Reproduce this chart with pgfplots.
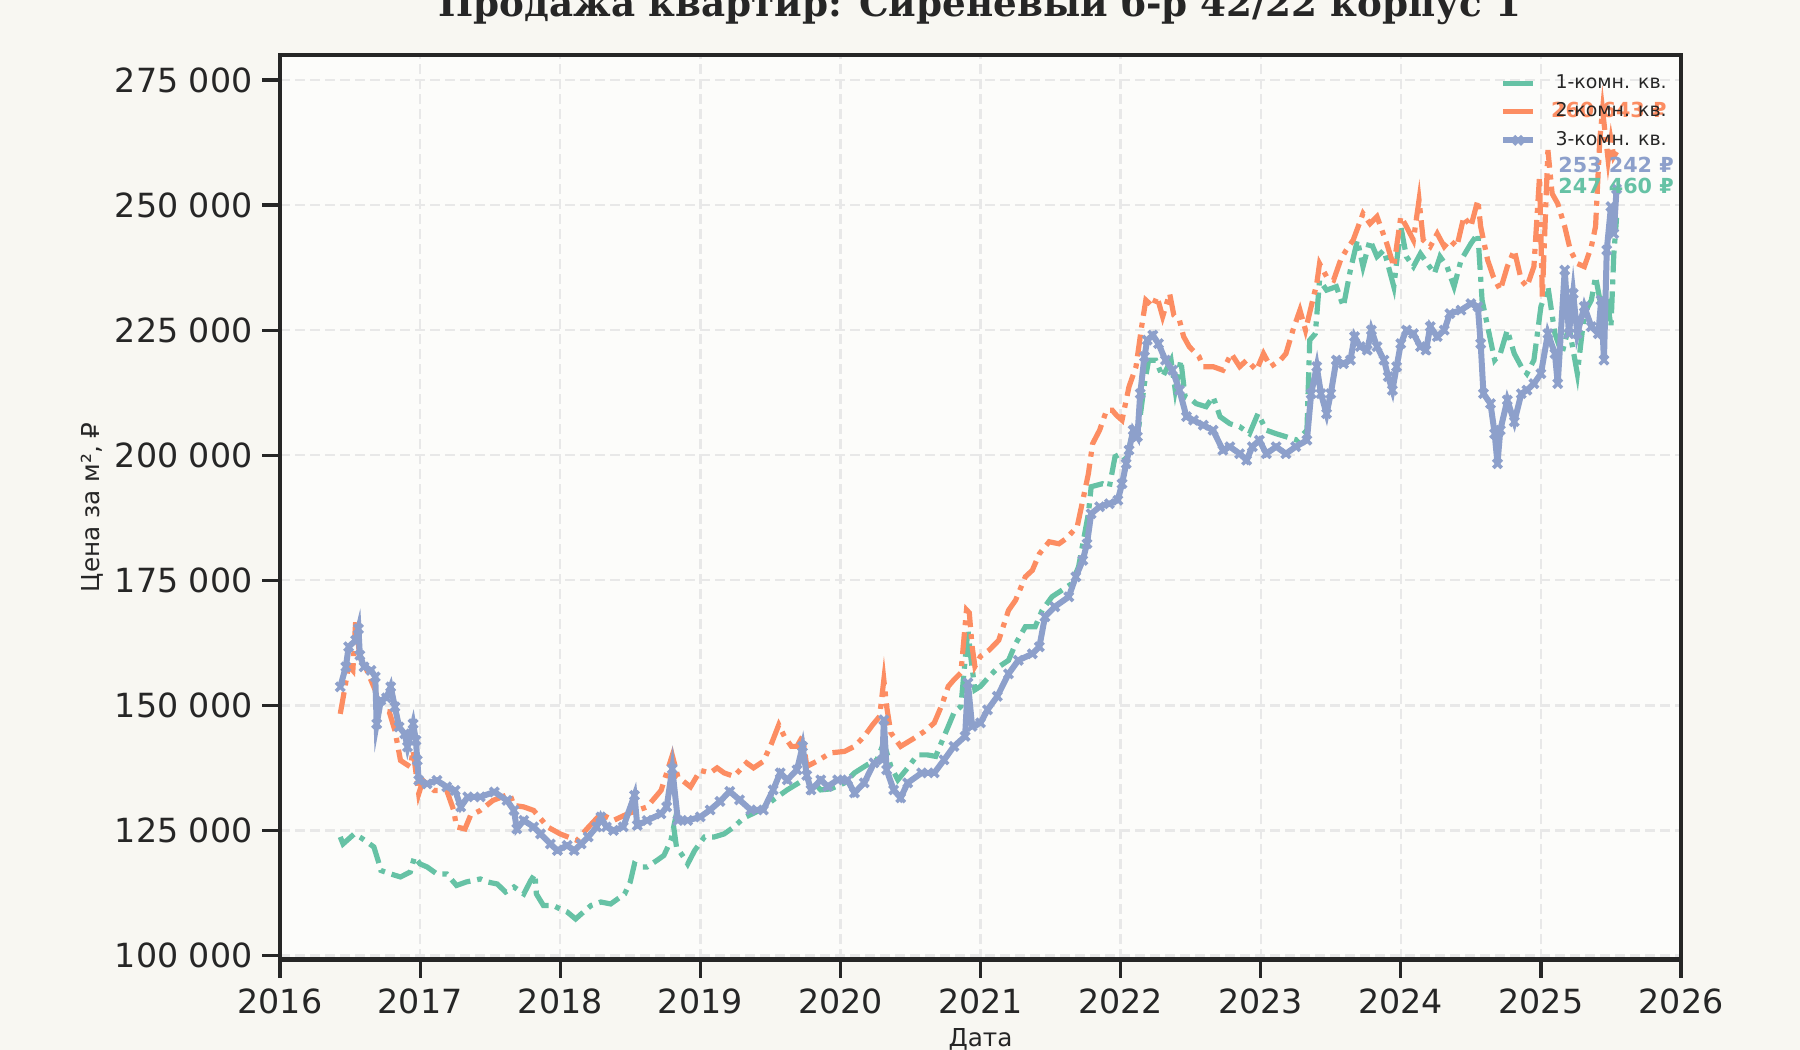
\documentclass[border=0pt]{standalone}
\usepackage{fontspec}
\setmainfont{DejaVu Sans}
\newfontfamily\titlefont{DejaVu Serif}
\usepackage{pgfplots}
\pgfplotsset{compat=1.18}
\definecolor{cgreen}{RGB}{102,194,165}
\definecolor{corange}{RGB}{252,141,98}
\definecolor{cblue}{RGB}{141,160,203}
\definecolor{figbg}{RGB}{248,247,242}
\definecolor{axbg}{RGB}{252,252,250}
\definecolor{axcol}{RGB}{38,38,38}
\definecolor{gridcol}{RGB}{232,232,232}
\begin{document}
\begin{tikzpicture}
\path[use as bounding box, fill=figbg] (0,0) rectangle (900bp,525bp);
\node[anchor=base, text=axcol, font=\titlefont\bfseries\fontsize{18.7}{22}\selectfont] at (490bp,516.6bp) {Продажа квартир: Сиреневый б-р 42/22 корпус 1};
\begin{axis}[
  at={(140bp,45.25bp)}, anchor=south west,
  scale only axis, width=700.5bp, height=452.25bp,
  xmin=2016, xmax=2026, ymin=99200, ymax=280000,
  scaled y ticks=false, scaled x ticks=false,
  axis background/.style={fill=axbg},
  axis line style={line width=2bp, color=axcol},
  tick align=outside, tick pos=left,
  major tick length=9bp,
  every tick/.style={line width=1.6bp, color=axcol},
  xtick={2016,2017,2018,2019,2020,2021,2022,2023,2024,2025,2026},
  xticklabels={2016,2017,2018,2019,2020,2021,2022,2023,2024,2025,2026},
  ytick={100000,125000,150000,175000,200000,225000,250000,275000},
  yticklabels={100 000,125 000,150 000,175 000,200 000,225 000,250 000,275 000},
  tick label style={font=\fontsize{16.7}{19}\selectfont, text=axcol},
  xticklabel style={inner sep=0pt, yshift=-5.5bp},
  yticklabel style={inner sep=0pt, xshift=-4.6bp},
  grid=major,
  major grid style={dash pattern=on 5bp off 2.5bp, line width=1.2bp, color=gridcol},
  xlabel={Дата}, ylabel={Цена за м², ₽},
  every axis x label/.style={at={(axis description cs:0.5,-0.0884)}, anchor=center, font=\fontsize{12.4}{15}\selectfont, text=axcol},
  every axis y label/.style={at={(axis description cs:-0.1342,0.5)}, rotate=90, anchor=center, font=\fontsize{12.4}{15}\selectfont, text=axcol},
  clip mode=individual,
  legend style={draw=none, fill=none, at={(rel axis cs:0.8706,0.979)}, anchor=north west,
    inner sep=0pt, font=\fontsize{9.5}{11}\selectfont, text=axcol,
    nodes={inner sep=0pt, text height=7bp, text depth=2bp},
    row sep=5.25bp, column sep=9.7bp},
  legend cell align=left,
  legend image code/.code={\draw[mark repeat=2,mark phase=2,#1,solid] plot coordinates {(0bp,0bp) (7.5bp,0bp) (15bp,0bp)};},
]
\addplot[cgreen, line width=2.6bp, dash pattern=on 11bp off 3.5bp on 2.5bp off 3.5bp] coordinates {
(2016.43,123700)(2016.45,122300)(2016.47,122800)(2016.53,124300)(2016.58,123500)(2016.67,121700)
(2016.70,119000)(2016.72,117000)(2016.79,116300)(2016.86,115700)(2016.93,116700)(2016.96,119700)
(2017.00,118300)(2017.05,117700)(2017.12,116300)(2017.19,116300)(2017.26,114000)(2017.33,114700)
(2017.43,115300)(2017.48,114700)(2017.55,114300)(2017.61,112700)(2017.67,113700)(2017.74,112300)
(2017.79,115000)(2017.82,116300)(2017.83,112300)(2017.88,110000)(2017.95,110000)(2018.00,109300)
(2018.05,108700)(2018.11,107300)(2018.15,108300)(2018.22,110000)(2018.29,110700)(2018.36,110300)
(2018.41,111300)(2018.46,112300)(2018.50,114700)(2018.53,118300)(2018.57,117700)(2018.62,117700)
(2018.69,119000)(2018.74,120000)(2018.79,123000)(2018.81,125700)(2018.83,121700)(2018.88,119700)
(2018.91,118300)(2018.96,121000)(2019.03,123700)(2019.10,123700)(2019.17,124300)(2019.24,125700)
(2019.31,127500)(2019.43,129100)(2019.52,131100)(2019.62,133100)(2019.72,134800)(2019.79,135100)
(2019.86,133100)(2019.93,133300)(2020.03,134500)(2020.10,136500)(2020.19,138100)(2020.26,139100)
(2020.31,142500)(2020.36,137800)(2020.41,135100)(2020.48,137500)(2020.55,140100)(2020.62,140100)
(2020.68,139800)(2020.72,142500)(2020.77,145800)(2020.81,148500)(2020.86,149800)(2020.91,165100)
(2020.93,159800)(2020.96,153100)(2021.00,153800)(2021.06,155700)(2021.13,157700)(2021.20,159000)
(2021.25,162300)(2021.32,165700)(2021.39,165700)(2021.44,169000)(2021.51,171700)(2021.58,173000)
(2021.65,174300)(2021.70,177700)(2021.77,188300)(2021.79,193700)(2021.87,194300)(2021.92,193700)
(2021.96,199700)(2022.00,200300)(2022.04,199000)(2022.08,203700)(2022.13,205700)(2022.17,214300)
(2022.20,219000)(2022.25,219000)(2022.30,215700)(2022.36,219000)(2022.39,213000)(2022.43,219000)
(2022.46,211700)(2022.51,211000)(2022.54,210300)(2022.61,209700)(2022.66,211700)(2022.71,207700)
(2022.78,206300)(2022.85,205700)(2022.92,204300)(2022.98,208300)(2023.04,205000)(2023.11,204300)
(2023.18,203700)(2023.26,203000)(2023.33,205000)(2023.35,223000)(2023.39,224300)(2023.42,235000)
(2023.47,233000)(2023.54,233700)(2023.59,229700)(2023.64,237000)(2023.69,243000)(2023.73,237700)
(2023.78,243000)(2023.83,239700)(2023.88,241000)(2023.95,233700)(2024.00,245700)(2024.04,239700)
(2024.09,237700)(2024.14,240300)(2024.19,238300)(2024.24,236300)(2024.28,239700)(2024.33,237700)
(2024.38,233700)(2024.43,239000)(2024.50,242300)(2024.55,244300)(2024.58,231000)(2024.62,225700)
(2024.67,219000)(2024.71,220300)(2024.76,225000)(2024.81,220300)(2024.86,217700)(2024.90,216300)
(2024.95,219000)(2025.00,229700)(2025.05,233700)(2025.10,224300)(2025.15,220300)(2025.20,225700)
(2025.26,216300)(2025.31,228300)(2025.36,231000)(2025.39,235700)(2025.43,229700)(2025.47,231700)
(2025.50,225700)(2025.52,240000)(2025.54,247460)
};
\addlegendentry{1-комн. кв.}
\addplot[corange, line width=2.6bp, dash pattern=on 11bp off 3.5bp on 2.5bp off 3.5bp] coordinates {
(2016.43,148300)(2016.46,153000)(2016.49,158000)(2016.52,157000)(2016.54,166700)(2016.57,159700)
(2016.62,157000)(2016.68,153000)(2016.71,149000)(2016.78,148700)(2016.82,145000)(2016.86,139000)
(2016.93,137700)(2016.95,141000)(2016.99,132300)(2017.02,135000)(2017.10,133000)(2017.19,133000)
(2017.24,129000)(2017.26,125700)(2017.32,125300)(2017.36,128000)(2017.43,129000)(2017.52,131000)
(2017.64,132300)(2017.67,130000)(2017.74,129700)(2017.81,129000)(2017.85,127700)(2017.91,125700)
(2018.00,124300)(2018.12,123000)(2018.19,125300)(2018.29,128300)(2018.38,127000)(2018.48,128300)
(2018.62,129700)(2018.72,133000)(2018.80,140000)(2018.84,135700)(2018.93,133700)(2019.00,137000)
(2019.07,136500)(2019.12,137500)(2019.17,136500)(2019.24,135800)(2019.33,138500)(2019.38,137500)
(2019.45,138800)(2019.51,142500)(2019.56,146100)(2019.60,143800)(2019.65,141800)(2019.69,141800)
(2019.73,143800)(2019.76,137800)(2019.83,138800)(2019.93,140500)(2020.03,140800)(2020.10,141800)
(2020.17,143800)(2020.23,146100)(2020.28,147800)(2020.31,155100)(2020.33,149800)(2020.36,144500)
(2020.43,141800)(2020.53,143500)(2020.60,144800)(2020.67,146500)(2020.72,149800)(2020.77,153800)
(2020.81,155100)(2020.86,156500)(2020.90,169100)(2020.92,168500)(2020.94,161800)(2020.96,157800)
(2021.00,159800)(2021.06,161000)(2021.13,163000)(2021.20,169000)(2021.25,171000)(2021.32,175700)
(2021.37,177000)(2021.42,180300)(2021.49,182700)(2021.56,182300)(2021.61,183300)(2021.69,185700)
(2021.74,192300)(2021.77,196300)(2021.80,202300)(2021.85,205000)(2021.90,209000)(2021.94,209000)
(2021.97,208000)(2022.01,207000)(2022.06,213700)(2022.11,217700)(2022.15,225700)(2022.18,231000)
(2022.23,229700)(2022.26,231700)(2022.30,227700)(2022.35,232300)(2022.38,228000)(2022.42,227000)
(2022.45,223700)(2022.49,221700)(2022.56,219700)(2022.59,217700)(2022.66,217700)(2022.73,217000)
(2022.79,220300)(2022.85,217700)(2022.90,219000)(2022.97,217000)(2023.02,220300)(2023.07,217700)
(2023.14,219000)(2023.18,220300)(2023.23,225000)(2023.28,229000)(2023.32,225000)(2023.36,229700)
(2023.40,234300)(2023.42,238300)(2023.47,235700)(2023.52,235000)(2023.57,239000)(2023.61,241000)
(2023.66,243000)(2023.73,248300)(2023.78,246300)(2023.83,247700)(2023.90,242300)(2023.95,237700)
(2024.00,247700)(2024.04,245700)(2024.09,243000)(2024.13,251000)(2024.16,243000)(2024.21,241700)
(2024.26,244300)(2024.31,241700)(2024.35,243000)(2024.40,241700)(2024.45,247700)(2024.50,245700)
(2024.55,251000)(2024.57,245700)(2024.62,239000)(2024.66,235700)(2024.71,233000)(2024.76,237700)
(2024.81,241000)(2024.86,235000)(2024.90,233700)(2024.95,237700)(2024.99,255700)(2025.01,231700)
(2025.05,261000)(2025.08,252300)(2025.12,250300)(2025.17,245700)(2025.21,241000)(2025.26,238300)
(2025.31,237700)(2025.36,241700)(2025.39,245700)(2025.42,263000)(2025.44,269000)(2025.48,259000)
(2025.50,263000)(2025.52,259700)(2025.54,260643)
};
\addlegendentry{2-комн. кв.}
\addplot[cblue, line width=3bp, mark=x, mark size=3bp, every mark/.append style={line width=1.8bp, solid}] coordinates {
(2016.43,153700)(2016.47,157700)(2016.49,161700)(2016.54,163000)(2016.56,165300)(2016.57,160000)
(2016.60,157700)(2016.65,157000)(2016.68,155700)(2016.69,146300)(2016.72,151000)(2016.76,151500)
(2016.79,153700)(2016.82,149700)(2016.85,145700)(2016.89,144300)(2016.91,141700)(2016.95,146300)
(2016.97,143000)(2016.98,139000)(2016.99,135000)(2017.05,134300)(2017.12,135000)(2017.19,133700)
(2017.25,133000)(2017.29,129700)(2017.34,131700)(2017.43,131700)(2017.53,132700)(2017.62,131000)
(2017.67,129000)(2017.69,125300)(2017.74,127000)(2017.81,125700)(2017.86,124300)(2017.93,122300)
(2017.98,121000)(2018.05,122000)(2018.10,121000)(2018.15,122300)(2018.20,123700)(2018.26,125700)
(2018.29,127700)(2018.33,125700)(2018.38,125000)(2018.45,125700)(2018.53,132000)(2018.55,126000)
(2018.62,127000)(2018.72,128300)(2018.76,129700)(2018.80,137300)(2018.84,127000)(2018.91,127000)
(2019.00,127700)(2019.07,129100)(2019.14,130800)(2019.21,132800)(2019.28,131100)(2019.36,129100)
(2019.45,129100)(2019.52,133100)(2019.57,136500)(2019.62,135100)(2019.69,137100)(2019.73,141800)
(2019.76,136000)(2019.79,133100)(2019.86,135100)(2019.91,133800)(2019.98,135100)(2020.05,135100)
(2020.10,132500)(2020.17,134500)(2020.24,138500)(2020.30,139100)(2020.31,147100)(2020.33,137100)
(2020.38,133100)(2020.43,131500)(2020.48,134500)(2020.58,136500)(2020.67,136500)(2020.74,139100)
(2020.81,141800)(2020.89,143800)(2020.91,154500)(2020.94,145800)(2021.00,146500)(2021.05,149100)
(2021.12,151800)(2021.20,156300)(2021.27,159000)(2021.37,160300)(2021.42,161700)(2021.46,167700)
(2021.53,169700)(2021.63,171700)(2021.68,175700)(2021.73,179000)(2021.76,182300)(2021.79,188300)
(2021.85,189700)(2021.92,190300)(2021.98,191000)(2022.01,194300)(2022.04,198300)(2022.06,201000)
(2022.09,205000)(2022.12,203700)(2022.14,212300)(2022.17,219700)(2022.19,223000)(2022.23,224000)
(2022.27,222300)(2022.32,219000)(2022.37,217000)(2022.42,213000)(2022.47,207700)(2022.52,207000)
(2022.59,206000)(2022.66,205000)(2022.73,201000)(2022.78,201700)(2022.85,200300)(2022.90,199000)
(2022.94,201700)(2022.99,203000)(2023.04,200300)(2023.11,201700)(2023.18,200300)(2023.25,201700)
(2023.33,203000)(2023.36,212300)(2023.40,217700)(2023.43,212300)(2023.47,208300)(2023.50,212300)
(2023.54,219000)(2023.59,218300)(2023.64,219000)(2023.67,223700)(2023.71,221700)(2023.76,221000)
(2023.79,225000)(2023.83,221700)(2023.88,219000)(2023.91,215700)(2023.94,213000)(2023.97,217700)
(2024.00,222300)(2024.04,225000)(2024.09,224300)(2024.14,221700)(2024.18,221000)(2024.21,225700)
(2024.26,223700)(2024.31,225000)(2024.35,228300)(2024.43,229000)(2024.50,230300)(2024.55,229700)
(2024.57,222300)(2024.59,212300)(2024.64,210300)(2024.67,204300)(2024.69,198300)(2024.71,205000)
(2024.76,211000)(2024.81,206700)(2024.86,212300)(2024.90,213000)(2024.95,214300)(2025.00,216300)
(2025.05,224300)(2025.10,220300)(2025.12,214300)(2025.17,237000)(2025.20,224300)(2025.23,232300)
(2025.26,224300)(2025.31,229700)(2025.36,225700)(2025.41,224300)(2025.43,231000)(2025.45,219000)
(2025.47,241000)(2025.50,249700)(2025.52,244300)(2025.54,253242)
};
\addlegendentry{3-комн. кв.}
\node[anchor=west, inner sep=0pt, text=corange, font=\bfseries\fontsize{10.4}{12}\selectfont] at (axis cs:2025.07,269000) {260 643 ₽};
\node[anchor=west, inner sep=0pt, text=cblue, font=\bfseries\fontsize{10.4}{12}\selectfont] at (axis cs:2025.122,258000) {253 242 ₽};
\node[anchor=west, inner sep=0pt, text=cgreen, font=\bfseries\fontsize{10.4}{12}\selectfont] at (axis cs:2025.122,253800) {247 460 ₽};
\end{axis}
\end{tikzpicture}
\end{document}
